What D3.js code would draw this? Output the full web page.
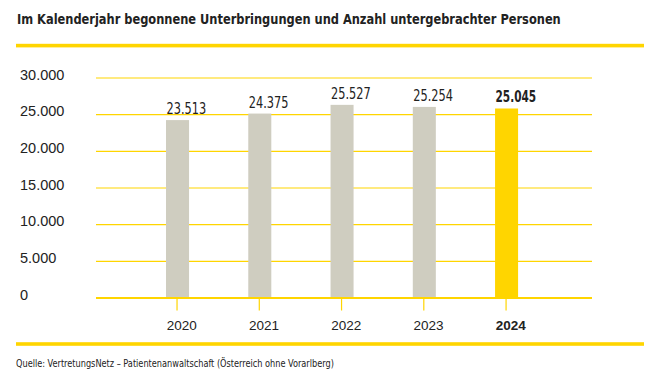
<!DOCTYPE html>
<html>
<head>
<meta charset="utf-8">
<script src="https://cdn.jsdelivr.net/npm/d3@7"></script>
<style>
  body { margin: 0; background: #fff; }
  svg { display: block; }
  .narrow { font-family: "Liberation Sans Narrow", "Arial Narrow", "DejaVu Sans Condensed", sans-serif; }
  .reg { font-family: "Liberation Sans", Arial, sans-serif; }
</style>
</head>
<body>
<svg width="654" height="381"></svg>
<script>
// Daten
const years = ["2020", "2021", "2022", "2023", "2024"];
const values = [23513, 24375, 25527, 25254, 25045];
const yTicks = [0, 5000, 10000, 15000, 20000, 25000, 30000];
const yTickLabels = ["0", "5.000", "10.000", "15.000", "20.000", "25.000", "30.000"];
const valueLabels = ["23.513", "24.375", "25.527", "25.254", "25.045"];

const gelb = "#ffd500", grau = "#cfcdc0", text = "#222";
const svg = d3.select("svg");
const last = years.length - 1;

// schmale Schrift nachbilden: Text horizontal stauchen
function squeeze(sel, f) {
  sel.each(function (d, i) {
    const w = this.getComputedTextLength();
    const k = typeof f === "function" ? f(d, i) : f;
    d3.select(this).attr("textLength", w * k).attr("lengthAdjust", "spacingAndGlyphs");
  });
}

// Titel und Linien oben
svg.append("text").attr("class", "narrow")
  .attr("x", 17).attr("y", 24)
  .attr("font-size", 14).attr("font-weight", "bold").attr("fill", text)
  .text("Im Kalenderjahr begonnene Unterbringungen und Anzahl untergebrachter Personen")
  .call(squeeze, 0.906);
svg.append("rect").attr("x", 16).attr("y", 43.8).attr("width", 628).attr("height", 3.6).attr("fill", gelb);

// Skalen
const x = d3.scaleBand().domain(years).range([136.4, 547.7]).paddingInner(0.72).paddingOuter(0.36);
const y = d3.scaleLinear().domain([0, 30000]).range([298, 78]);
// Balken im Original etwas höher als das Raster
const yBar = d3.scaleLinear().domain([0, 30000]).range([298, 71]);

// Raster
svg.append("g").selectAll("line").data(yTicks.filter(d => d > 0)).enter().append("line")
  .attr("x1", 96).attr("x2", 592)
  .attr("y1", d => y(d)).attr("y2", d => y(d))
  .attr("stroke", gelb).attr("stroke-width", 1.2);

svg.append("g").selectAll("text").data(yTicks).enter().append("text")
  .attr("class", "reg")
  .attr("x", 20).attr("y", d => y(d) + 1.5)
  .attr("font-size", 14.5).attr("fill", text)
  .text((d, i) => yTickLabels[i]);

// Balken
svg.append("g").selectAll("rect").data(values).enter().append("rect")
  .attr("x", (d, i) => x(years[i]))
  .attr("y", d => yBar(d))
  .attr("width", x.bandwidth())
  .attr("height", d => yBar(0) - yBar(d))
  .attr("fill", (d, i) => i === last ? gelb : grau);

// Werte
svg.append("g").selectAll("text").data(values).enter().append("text")
  .attr("class", "narrow")
  .attr("x", (d, i) => x(years[i]) + 0.5)
  .attr("y", d => yBar(d) - 6)
  .attr("font-size", 15).attr("fill", text)
  .attr("font-weight", (d, i) => i === last ? "bold" : "normal")
  .text((d, i) => valueLabels[i])
  .call(squeeze, (d, i) => i === last ? 0.78 : 0.84);

// Grundlinie und Ticks
svg.append("line").attr("x1", 96).attr("x2", 592).attr("y1", 298).attr("y2", 298)
  .attr("stroke", gelb).attr("stroke-width", 2);
svg.append("g").selectAll("line").data(years).enter().append("line")
  .attr("x1", d => x(d) + x.bandwidth() / 2 - 0.5).attr("x2", d => x(d) + x.bandwidth() / 2 - 0.5)
  .attr("y1", 298).attr("y2", 310.5)
  .attr("stroke", gelb).attr("stroke-width", 1.2);

svg.append("g").selectAll("text").data(years).enter().append("text")
  .attr("class", "reg")
  .attr("x", d => x(d) + 0.7).attr("y", 329.5)
  .attr("font-size", 13.5).attr("fill", text)
  .attr("font-weight", (d, i) => i === last ? "bold" : "normal")
  .text(d => d);

// Linie unten und Quelle
svg.append("rect").attr("x", 16).attr("y", 342.2).attr("width", 628).attr("height", 3.6).attr("fill", gelb);
svg.append("text").attr("class", "narrow")
  .attr("x", 16).attr("y", 367)
  .attr("font-size", 10).attr("fill", text)
  .text("Quelle: VertretungsNetz – Patientenanwaltschaft (Österreich ohne Vorarlberg)")
  .call(squeeze, 0.91);
</script>
</body>
</html>
